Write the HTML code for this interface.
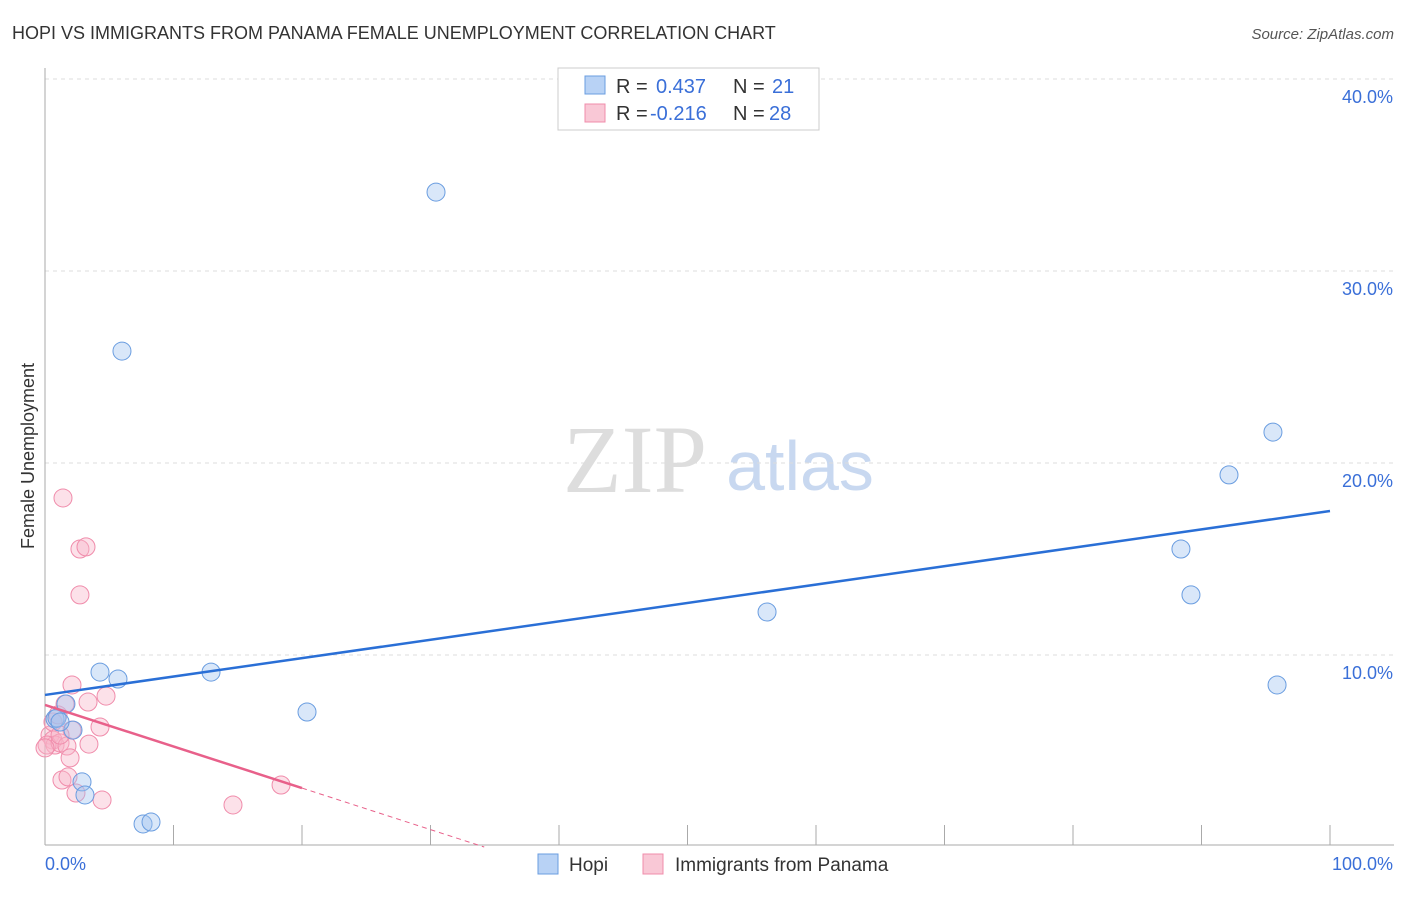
<!DOCTYPE html>
<html><head><meta charset="utf-8"><style>
body{margin:0;background:#fff;font-family:"Liberation Sans",sans-serif}
</style></head><body>
<svg id="c" width="1406" height="892" xmlns="http://www.w3.org/2000/svg">
<text x="12" y="39" font-size="18" fill="#333">HOPI VS IMMIGRANTS FROM PANAMA FEMALE UNEMPLOYMENT CORRELATION CHART</text>
<text x="1394" y="39" font-size="15" fill="#555" font-style="italic" text-anchor="end">Source: ZipAtlas.com</text>
<text x="635" y="492" font-size="96" fill="#ddd" font-family="Liberation Serif,serif" text-anchor="middle">ZIP</text>
<text x="800" y="490" font-size="70" fill="#c8d8f0" text-anchor="middle">atlas</text>
<text transform="translate(34,456) rotate(-90)" font-size="18" fill="#333" text-anchor="middle">Female Unemployment</text>
<g id="grid"></g><g id="marks"></g>
<g>
<rect x="558" y="68" width="261" height="62" fill="#fff" stroke="#ccc"/>
<rect x="585" y="76" width="20" height="18" fill="#b8d2f5" stroke="#6a9de0"/>
<rect x="585" y="104" width="20" height="18" fill="#f9c8d6" stroke="#f08cab"/>
<text y="93" font-size="20" fill="#333"><tspan x="616">R =</tspan><tspan x="656" fill="#3a6fd8">0.437</tspan><tspan x="733">N =</tspan><tspan x="772" fill="#3a6fd8">21</tspan></text>
<text y="120" font-size="20" fill="#333"><tspan x="616">R =</tspan><tspan x="650" fill="#3a6fd8">-0.216</tspan><tspan x="733">N =</tspan><tspan x="769" fill="#3a6fd8">28</tspan></text>
</g>
<g>
<rect x="538" y="854" width="20" height="20" fill="#b8d2f5" stroke="#6a9de0"/>
<text x="569" y="871" font-size="19" fill="#333">Hopi</text>
<rect x="643" y="854" width="20" height="20" fill="#f9c8d6" stroke="#f08cab"/>
<text x="675" y="871" font-size="19" fill="#333">Immigrants from Panama</text>
</g>
</svg>
<script>
const yTicks=[10,20,30,40];
const hopiX=[4.28,5.68,12.92,20.39,30.43,5.99,1.63,0.78,2.18,2.88,3.11,7.63,8.25,56.19,88.40,89.18,92.14,95.56,95.88,0.93,1.17];
const hopiY=[9.11,8.75,9.11,7.03,34.11,25.83,7.45,6.67,6.09,3.39,2.71,1.20,1.30,12.24,15.52,13.13,19.38,21.61,8.44,6.72,6.51];
const panX=[1.40,2.72,3.19,2.72,2.10,3.35,4.75,4.28,3.42,0.39,0.62,0.78,0.16,1.17,1.71,1.95,1.32,1.79,2.41,4.44,14.63,18.37,0.62,1.01,0,1.56,2.10,1.17];
const panY=[18.18,15.52,15.63,13.13,8.44,7.55,7.86,6.25,5.36,5.83,5.57,5.31,5.31,5.42,5.26,4.64,3.49,3.65,2.81,2.45,2.19,3.23,6.51,6.88,5.16,7.45,6.09,5.83];
const hopiTrend=[7.92,17.5];
const panTrend=[7.4,-0.2165];
const NS="http://www.w3.org/2000/svg";
const sx=v=>45+v*12.85, sy=v=>847-v*19.2;
function mk(t,a,p){const e=document.createElementNS(NS,t);for(const k in a)e.setAttribute(k,a[k]);p.appendChild(e);return e;}
const g=document.getElementById('grid'),m=document.getElementById('marks');
yTicks.forEach(t=>{
 const l=mk('line',{x1:45,x2:1394,y1:sy(t),y2:sy(t),stroke:'#ddd','stroke-dasharray':'4,4'},g);
 
 
 const tx=mk('text',{x:1393,y:sy(t)+24,'font-size':18,fill:'#3a6fd8','text-anchor':'end'},g);tx.textContent=t.toFixed(1)+'%';
 
 
});
mk('line',{x1:45,x2:45,y1:68,y2:845,stroke:'#aaa'},g);
mk('line',{x1:45,x2:1394,y1:845,y2:845,stroke:'#aaa'},g);
for(let i=1;i<=10;i++){mk('line',{x1:sx(i*10),x2:sx(i*10),y1:825,y2:845,stroke:'#aaa'},g);}
const x0=mk('text',{x:45,y:870,'font-size':18,fill:'#3a6fd8'},g);x0.textContent='0.0%';

const x1=mk('text',{x:1393,y:870,'font-size':18,fill:'#3a6fd8','text-anchor':'end'},g);x1.textContent='100.0%';

panX.forEach((x,i)=>{const c=mk('circle',{cx:sx(x),cy:sy(panY[i]),r:9,fill:'rgba(248,180,200,0.4)',stroke:'#f08cab','stroke-width':1},m);
 
 });
hopiX.forEach((x,i)=>{const c=mk('circle',{cx:sx(x),cy:sy(hopiY[i]),r:9,fill:'rgba(160,196,240,0.4)',stroke:'#6a9de0','stroke-width':1},m);
 
 });
const bl=mk('line',{x1:sx(0),y1:sy(hopiTrend[0]),x2:sx(100),y2:sy(hopiTrend[1]),stroke:'#2a6fd6','stroke-width':2.5},m);

const pl=mk('line',{x1:sx(0),y1:sy(panTrend[0]),x2:sx(20),y2:sy(panTrend[0]+panTrend[1]*20),stroke:'#e8608a','stroke-width':2.5},m);

const xe=-panTrend[0]/panTrend[1];
const pd=mk('line',{x1:sx(20),y1:sy(panTrend[0]+panTrend[1]*20),x2:sx(xe),y2:sy(0),stroke:'#e8608a','stroke-width':1,'stroke-dasharray':'5,4'},m);

</script>
</body></html>
